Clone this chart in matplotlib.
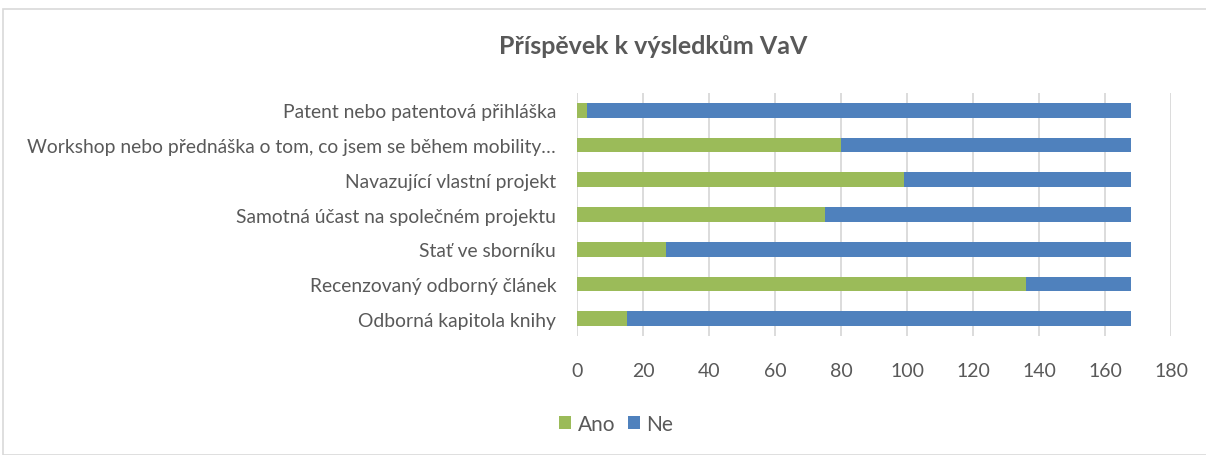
import matplotlib
matplotlib.use("Agg")
import matplotlib.pyplot as plt
from matplotlib.patches import Rectangle

categories = [
    "Odborná kapitola knihy",
    "Recenzovaný odborný článek",
    "Stať ve sborníku",
    "Samotná účast na společném projektu",
    "Navazující vlastní projekt",
    "Workshop nebo přednáška o tom, co jsem se během mobility…",
    "Patent nebo patentová přihláška",
]
ano = [15, 136, 27, 75, 99, 80, 3]
ne = [153, 32, 141, 93, 69, 88, 165]
xticks = [0, 20, 40, 60, 80, 100, 120, 140, 160, 180]

GREEN = "#9BBB59"
BLUE = "#4F81BD"
TEXT = "#595959"
GRID = "#D9D9D9"

plt.rcParams["font.family"] = ["Lato", "DejaVu Sans"]

W, H = 1206, 456
fig = plt.figure(figsize=(W / 100, H / 100), dpi=100)

# chart frame
fig.patches.append(Rectangle((3 / W, 0), 1.2, 1 - 10 / H, transform=fig.transFigure,
                             fill=False, edgecolor=GRID, linewidth=1.2))

left, right = 577 / W, 1171 / W
top, bottom = 1 - 94 / H, 1 - 337 / H
ax = fig.add_axes([left, bottom, right - left, top - bottom])

y = list(range(len(categories)))
ax.barh(y, ano, height=0.42, color=GREEN, label="Ano", zorder=3)
ax.barh(y, ne, left=ano, height=0.42, color=BLUE, label="Ne", zorder=3)

ax.set_xlim(0, 180)
ax.set_ylim(-0.5, len(categories) - 0.5)
ax.set_xticks(xticks)
ax.set_xticklabels([str(t) for t in xticks], fontsize=14, color=TEXT)
ax.set_yticks(y)
ax.set_yticklabels(categories, fontsize=13.9, color=TEXT)
ax.tick_params(axis="x", length=0, pad=19)
ax.tick_params(axis="y", length=0, pad=15)
ax.grid(axis="x", color=GRID, linewidth=1.3, zorder=0)
for s in ax.spines.values():
    s.set_visible(False)

fig.text(653 / W, 1 - 47 / H, "Příspěvek k výsledkům VaV", ha="center", va="center",
         fontsize=18, fontweight="bold", color=TEXT)

fig.legend(loc="center", bbox_to_anchor=(616 / W, 1 - 425 / H), ncol=2, frameon=False,
           fontsize=15, labelcolor=TEXT, handlelength=0.6, handleheight=0.6,
           handletextpad=0.3, columnspacing=0.6)

fig.savefig("out.png", dpi=100)
